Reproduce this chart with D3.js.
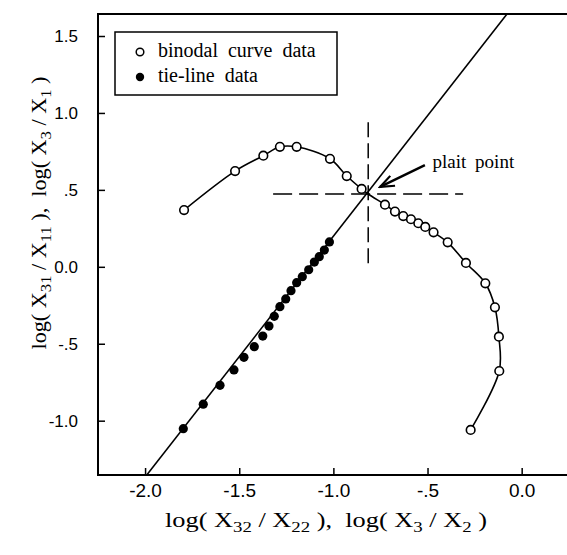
<!DOCTYPE html>
<html>
<head>
<meta charset="utf-8">
<script src="https://cdn.jsdelivr.net/npm/d3@7"></script>
<style>
    body { margin: 0; background: #fff; }
    .tick-label { font-family: "Liberation Sans", Arial, sans-serif; font-size: 17px; fill: #000; }
    .x-label { font-size: 19px; }
    .serif { font-family: "Liberation Serif", "Times New Roman", serif; fill: #000; }
</style>
</head>
<body>
<div id="chart"></div>
<script>
// binodal curve (open circles), left branch then right branch of the plait point
const binodalLeftX = [-1.793, -1.522, -1.372, -1.284, -1.195, -1.018, -0.929, -0.850];
const binodalLeftY = [0.369, 0.622, 0.722, 0.780, 0.780, 0.702, 0.590, 0.506];
const binodalRightX = [-0.726, -0.673, -0.629, -0.588, -0.549, -0.512, -0.468, -0.393, -0.296, -0.193, -0.142, -0.121, -0.119, -0.271];
const binodalRightY = [0.404, 0.359, 0.330, 0.309, 0.283, 0.259, 0.224, 0.159, 0.025, -0.107, -0.263, -0.454, -0.677, -1.060];

// tie-line data (filled circles)
const tieX = [-1.797, -1.691, -1.602, -1.528, -1.475, -1.420, -1.375, -1.342, -1.314, -1.284, -1.253, -1.225, -1.195, -1.165, -1.131, -1.101, -1.075, -1.048, -1.021];
const tieY = [-1.052, -0.893, -0.770, -0.670, -0.588, -0.519, -0.450, -0.385, -0.322, -0.259, -0.209, -0.155, -0.103, -0.064, -0.019, 0.031, 0.066, 0.109, 0.162];

// fitted tie line: y = intercept + slope * x
const fitSlope = 1.566;
const fitIntercept = 1.765;

const plaitPoint = [-0.815, 0.473];

const xTicks = [-2.0, -1.5, -1.0, -0.5, 0.0];
const xTickLabels = ["-2.0", "-1.5", "-1.0", "-.5", "0.0"];
const yTicks = [-1.0, -0.5, 0.0, 0.5, 1.0, 1.5];
const yTickLabels = ["-1.0", "-.5", "0.0", ".5", "1.0", "1.5"];

const xDomain = [-2.25, 0.25];
const yDomain = [-1.353, 1.643];

function buildChart() {
    const W = 567, H = 555;
    const plot = { left: 98, top: 14, right: 568.75, bottom: 475 };

    const svg = d3.select("#chart").append("svg")
        .attr("width", W)
        .attr("height", H);

    const x = d3.scaleLinear().domain(xDomain).range([plot.left, plot.right]);
    const y = d3.scaleLinear().domain(yDomain).range([plot.bottom, plot.top]);

    const defs = svg.append("defs");
    defs.append("clipPath").attr("id", "clip")
        .append("rect")
        .attr("x", plot.left).attr("y", plot.top)
        .attr("width", plot.right - plot.left).attr("height", plot.bottom - plot.top);

    defs.append("marker")
        .attr("id", "arrow")
        .attr("viewBox", "-16 -8 18 16")
        .attr("refX", 0).attr("refY", 0)
        .attr("markerWidth", 18).attr("markerHeight", 16)
        .attr("markerUnits", "userSpaceOnUse")
        .attr("orient", "auto")
        .append("path")
        .attr("d", "M-14,-5.5 L0,0 L-14,5.5")
        .attr("fill", "none")
        .attr("stroke", "#000")
        .attr("stroke-width", 2.2);

    // axes with inward ticks
    const xAxis = svg.append("g")
        .attr("transform", `translate(0,${plot.bottom})`)
        .call(d3.axisBottom(x).tickValues(xTicks).tickSizeInner(-7).tickSizeOuter(0).tickPadding(9)
            .tickFormat((d, i) => xTickLabels[i]));
    xAxis.select(".domain").remove();
    xAxis.selectAll(".tick line").attr("stroke-width", 1.5);
    xAxis.selectAll("text").attr("class", "tick-label x-label").attr("font-size", null).attr("font-family", null)
        .attr("dy", "0.71em");

    const yAxis = svg.append("g")
        .attr("transform", `translate(${plot.left},0)`)
        .call(d3.axisLeft(y).tickValues(yTicks).tickSizeInner(-7).tickSizeOuter(0).tickPadding(20)
            .tickFormat((d, i) => yTickLabels[i]));
    yAxis.select(".domain").remove();
    yAxis.selectAll(".tick line").attr("stroke-width", 1.5);
    yAxis.selectAll("text").attr("class", "tick-label").attr("font-size", null).attr("font-family", null);

    // frame (right edge falls just outside the picture)
    svg.append("rect")
        .attr("x", plot.left).attr("y", plot.top)
        .attr("width", plot.right - plot.left).attr("height", plot.bottom - plot.top)
        .attr("fill", "none")
        .attr("stroke", "#000")
        .attr("stroke-width", 2);

    const g = svg.append("g").attr("clip-path", "url(#clip)");

    // fitted straight line
    const fitLine = xDomain.map(v => [v, fitIntercept + fitSlope * v]);
    g.append("path")
        .datum(fitLine)
        .attr("d", d3.line().x(d => x(d[0])).y(d => y(d[1])))
        .attr("fill", "none")
        .attr("stroke", "#000")
        .attr("stroke-width", 1.6);

    // dashed cross-hair through the plait point
    g.append("line")
        .attr("x1", x(-1.32)).attr("x2", x(-0.311))
        .attr("y1", y(plaitPoint[1])).attr("y2", y(plaitPoint[1]))
        .attr("stroke", "#000").attr("stroke-width", 1.5)
        .attr("stroke-dasharray", "19,7");
    g.append("line")
        .attr("x1", x(plaitPoint[0])).attr("x2", x(plaitPoint[0]))
        .attr("y1", y(0.94)).attr("y2", y(0.012))
        .attr("stroke", "#000").attr("stroke-width", 1.5)
        .attr("stroke-dasharray", "15,6");

    // binodal curve through the plait point
    const leftPts = binodalLeftX.map((v, i) => [v, binodalLeftY[i]]);
    const rightPts = binodalRightX.map((v, i) => [v, binodalRightY[i]]);
    const curvePts = leftPts.concat([plaitPoint], rightPts);
    g.append("path")
        .datum(curvePts)
        .attr("d", d3.line().x(d => x(d[0])).y(d => y(d[1])).curve(d3.curveCatmullRom.alpha(0.5)))
        .attr("fill", "none")
        .attr("stroke", "#000")
        .attr("stroke-width", 1.6);

    g.selectAll(".open")
        .data(leftPts.concat(rightPts))
        .enter()
        .append("circle")
        .attr("class", "open")
        .attr("cx", d => x(d[0]))
        .attr("cy", d => y(d[1]))
        .attr("r", 4.3)
        .attr("fill", "#fff")
        .attr("stroke", "#000")
        .attr("stroke-width", 1.6);

    g.selectAll(".filled")
        .data(tieX.map((v, i) => [v, tieY[i]]))
        .enter()
        .append("circle")
        .attr("class", "filled")
        .attr("cx", d => x(d[0]))
        .attr("cy", d => y(d[1]))
        .attr("r", 4.6)
        .attr("fill", "#000");

    // plait point annotation
    svg.append("line")
        .attr("x1", x(-0.514)).attr("y1", y(0.661))
        .attr("x2", x(-0.752)).attr("y2", y(0.519))
        .attr("stroke", "#000").attr("stroke-width", 2.4)
        .attr("marker-end", "url(#arrow)");
    svg.append("text")
        .attr("class", "serif")
        .attr("x", x(-0.473)).attr("y", y(0.641))
        .attr("font-size", 19)
        .attr("word-spacing", 4)
        .text("plait point");

    // legend
    const legend = svg.append("g");
    legend.append("rect")
        .attr("x", 115).attr("y", 32).attr("width", 222).attr("height", 63)
        .attr("fill", "#fff").attr("stroke", "#000").attr("stroke-width", 1.5);
    legend.append("circle").attr("cx", 140).attr("cy", 52).attr("r", 3.8)
        .attr("fill", "#fff").attr("stroke", "#000").attr("stroke-width", 1.5);
    legend.append("circle").attr("cx", 140).attr("cy", 77).attr("r", 4.2).attr("fill", "#000");
    legend.append("text").attr("class", "serif").attr("x", 158).attr("y", 57)
        .attr("font-size", 20).attr("word-spacing", 5).text("binodal curve data");
    legend.append("text").attr("class", "serif").attr("x", 158).attr("y", 82)
        .attr("font-size", 20).attr("word-spacing", 5).text("tie-line data");

    // axis titles with subscripts
    function addTitle(sel, parts) {
        parts.forEach(p => {
            const t = sel.append("tspan").text(p.t);
            if (p.sub) t.attr("font-size", 15).attr("dy", 5);
            else if (p.after) t.attr("dy", -5);
        });
    }

    const xTitle = svg.append("text")
        .attr("class", "serif")
        .attr("x", 326).attr("y", 527)
        .attr("text-anchor", "middle")
        .attr("font-size", 21)
        .attr("xml:space", "preserve")
        .attr("textLength", 322)
        .attr("lengthAdjust", "spacingAndGlyphs");
    addTitle(xTitle, [
        { t: "log( X" }, { t: "32", sub: true }, { t: " / X", after: true }, { t: "22", sub: true },
        { t: " ),  log( X", after: true }, { t: "3", sub: true }, { t: " / X", after: true }, { t: "2", sub: true },
        { t: " )", after: true }
    ]);

    const yTitle = svg.append("text")
        .attr("class", "serif")
        .attr("transform", "translate(46,213) rotate(-90)")
        .attr("text-anchor", "middle")
        .attr("font-size", 20)
        .attr("xml:space", "preserve")
        .attr("textLength", 273)
        .attr("lengthAdjust", "spacingAndGlyphs");
    addTitle(yTitle, [
        { t: "log( X" }, { t: "31", sub: true }, { t: " / X", after: true }, { t: "11", sub: true },
        { t: " ),  log( X", after: true }, { t: "3", sub: true }, { t: " / X", after: true }, { t: "1", sub: true },
        { t: " )", after: true }
    ]);
}

buildChart();
</script>
</body>
</html>
